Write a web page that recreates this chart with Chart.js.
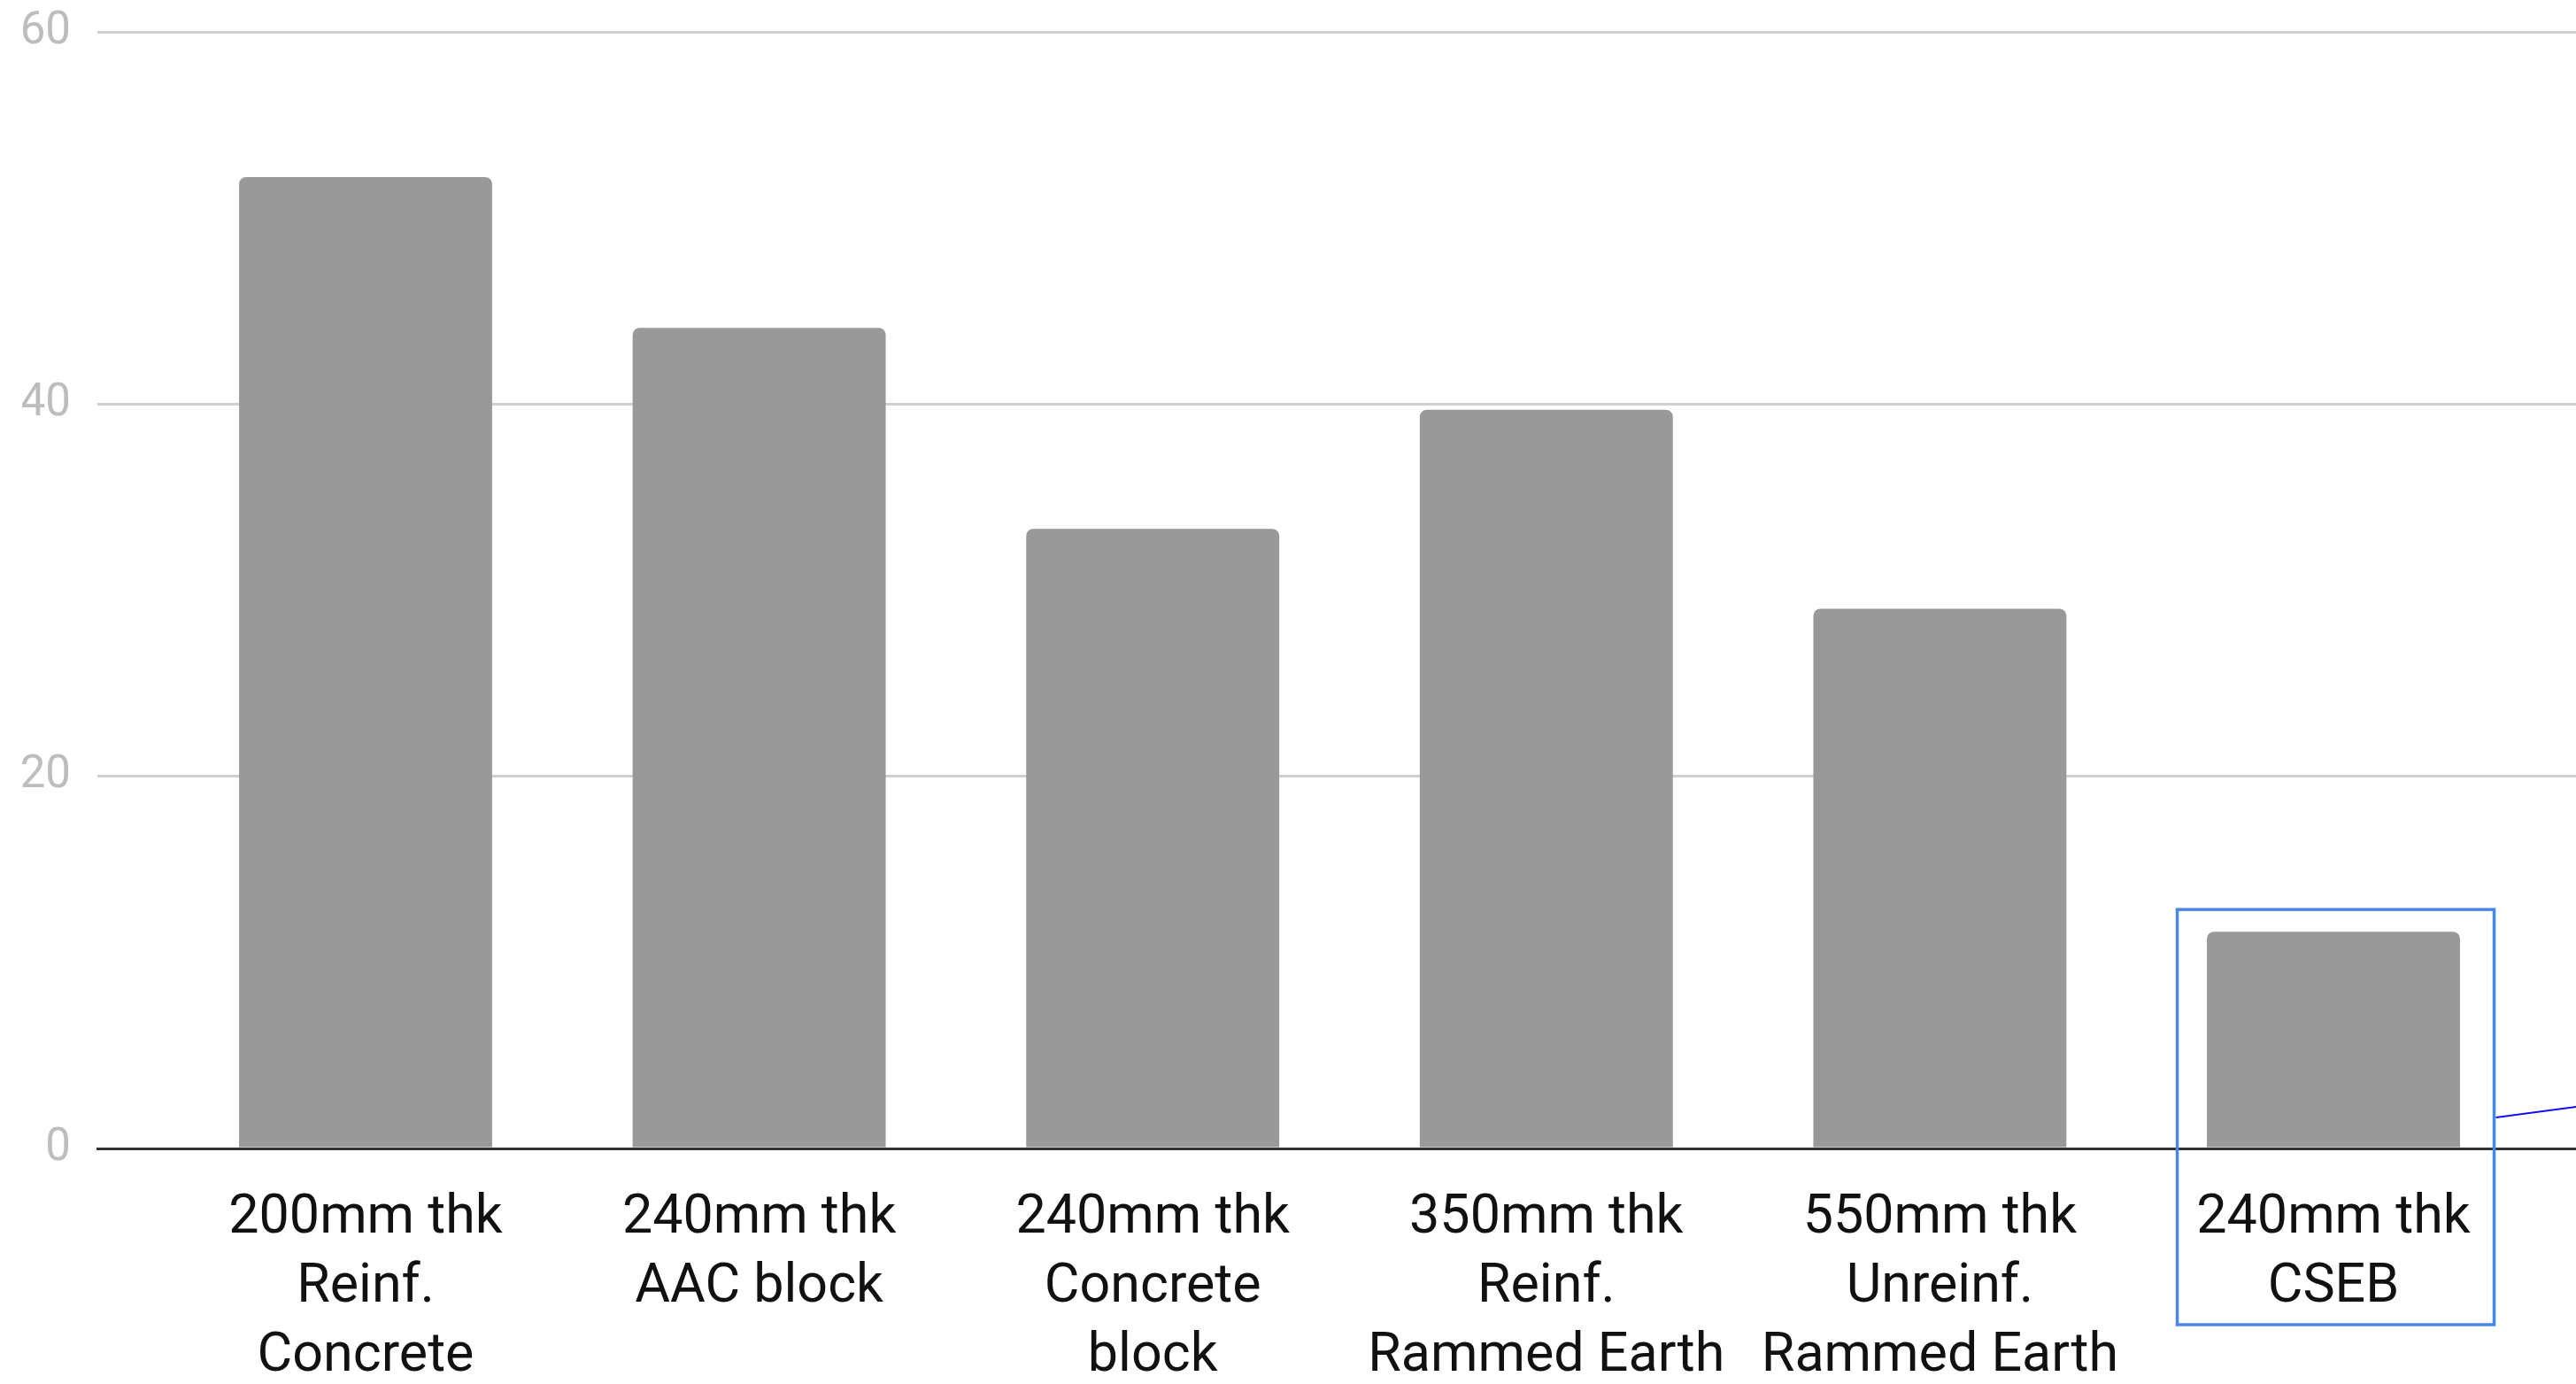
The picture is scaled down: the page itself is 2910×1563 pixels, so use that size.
<!DOCTYPE html>
<html>
<head>
<meta charset="utf-8">
<script src="https://cdn.jsdelivr.net/npm/chart.js@4/dist/chart.umd.min.js"></script>
<style>
  html, body { margin: 0; padding: 0; background: #ffffff; overflow: hidden; }
  #wrap { position: relative; width: 2910px; height: 1563px; }
</style>
</head>
<body>
<div id="wrap"><canvas id="chart"></canvas></div>
<script>
// Wall types (multi-line labels) and their values
const categories = [
  ["200mm thk", "Reinf.", "Concrete"],
  ["240mm thk", "AAC block"],
  ["240mm thk", "Concrete", "block"],
  ["350mm thk", "Reinf.", "Rammed Earth"],
  ["550mm thk", "Unreinf.", "Rammed Earth"],
  ["240mm thk", "CSEB"]
];
const values = [52.2, 44.1, 33.3, 39.7, 29.0, 11.65];
const yTicks = [0, 20, 40, 60];
const highlightIndex = 5;

// Frame around the highlighted column and its leader line
const highlightPlugin = {
  id: 'highlight',
  afterDraw(chart) {
    const { ctx, scales: { x, y }, chartArea } = chart;
    const cx = x.getPixelForValue(highlightIndex);
    const left = cx - 176.5, right = cx + 181.5;
    const top = y.getPixelForValue(values[highlightIndex]) - 25;
    const bottom = chartArea.bottom + 199;
    ctx.save();
    ctx.strokeStyle = '#4a86e8';
    ctx.lineWidth = 3.5;
    ctx.strokeRect(left, top, right - left, bottom - top);
    ctx.strokeStyle = '#1010ff';
    ctx.lineWidth = 2;
    ctx.beginPath();
    ctx.moveTo(right + 2, chartArea.bottom - 35);
    ctx.lineTo(chart.width, chartArea.bottom - 47);
    ctx.stroke();
    ctx.restore();
  }
};

const step = 444.6;          // px per category
const areaLeft = 110, areaRight = 2910;
const firstCenter = 413;
const xMin = -(firstCenter - areaLeft) / step;
const xMax = xMin + (areaRight - areaLeft) / step;

new Chart(document.getElementById('chart'), {
  type: 'bar',
  data: {
    datasets: [{
      data: values.map((v, i) => ({ x: i, y: v })),
      backgroundColor: '#999999',
      borderRadius: 8,
      borderSkipped: 'start',
      barPercentage: 0.643,
      categoryPercentage: 1.0
    }]
  },
  options: {
    responsive: true,
    maintainAspectRatio: false,
    animation: false,
    layout: { padding: { left: 25, top: 36, right: 0, bottom: 0 } },
    plugins: { legend: { display: false }, tooltip: { enabled: false } },
    scales: {
      x: {
        type: 'linear',
        offset: false,
        min: xMin,
        max: xMax,
        afterFit(scale) {
          scale.height = 266;
          scale.paddingLeft = 0; scale.paddingRight = 0;
          scale.paddingTop = 0; scale.paddingBottom = 0;
        },
        afterBuildTicks(scale) {
          scale.ticks = categories.map((_, i) => ({ value: i }));
        },
        ticks: {
          autoSkip: false,
          maxRotation: 0,
          minRotation: 0,
          padding: 41,
          color: '#111111',
          font: { family: 'Roboto', size: 61, lineHeight: 1.28 },
          callback: (v) => categories[v]
        },
        grid: { display: false, drawTicks: false },
        border: { display: true, color: '#333333', width: 3 }
      },
      y: {
        min: 0,
        max: 60,
        afterFit(scale) {
          scale.width = 85;
          scale.paddingTop = 0; scale.paddingBottom = 0;
          scale.paddingLeft = 0; scale.paddingRight = 0;
        },
        afterBuildTicks(scale) {
          scale.ticks = yTicks.map(v => ({ value: v }));
        },
        ticks: {
          padding: 30,
          color: '#bdbdbd',
          font: { family: 'Roboto', size: 51 }
        },
        grid: { color: '#d0d0d0', lineWidth: 3, drawTicks: false },
        border: { display: false }
      }
    }
  },
  plugins: [highlightPlugin]
});
</script>
</body>
</html>
